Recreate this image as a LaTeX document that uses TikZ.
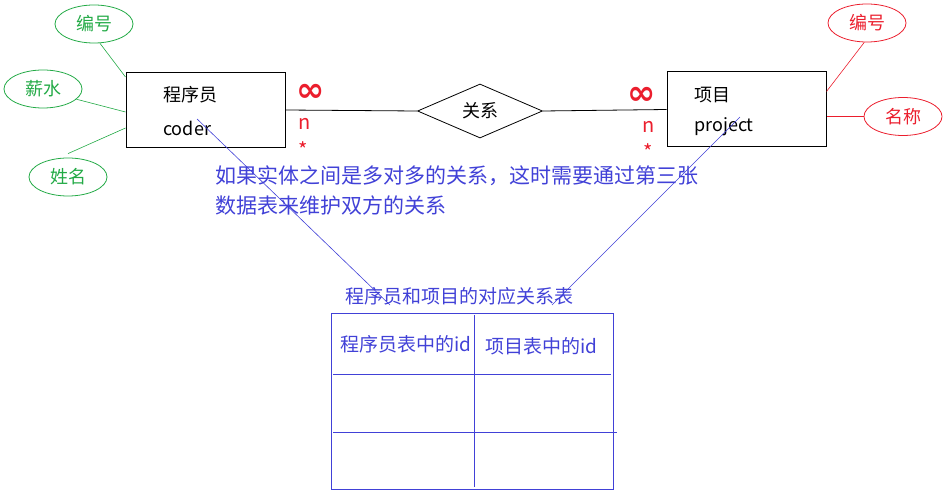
\documentclass[tikz,border=0pt]{standalone}
\usepackage{fontspec}
\setmainfont{Noto Sans CJK SC}
\newfontfamily\symfont{DejaVu Sans}
\usetikzlibrary{shapes.geometric}
\definecolor{attrgreen}{RGB}{35,170,70}
\definecolor{attrred}{RGB}{235,30,45}
\definecolor{noteblue}{RGB}{65,65,215}
\begin{document}
\begin{tikzpicture}[x=1pt,y=-1pt,
  entity/.style={draw,line width=1pt,minimum width=159pt,minimum height=75pt,inner sep=0pt},
  relbox/.style={draw,diamond,line width=0.8pt,minimum width=125pt,minimum height=54pt,aspect=2.3,inner sep=0pt,font=\fontsize{18}{18}\selectfont},
  gattr/.style={draw=attrgreen,ellipse,line width=0.8pt,minimum width=78pt,minimum height=38pt,inner sep=0pt,text=attrgreen,font=\fontsize{18}{18}\selectfont},
  rattr/.style={gattr,draw=attrred,text=attrred},
  etext/.style={anchor=west,inner sep=0pt,font=\fontsize{18}{18}\selectfont},
  mult/.style={text=attrred,inner sep=0pt,font=\fontsize{20}{20}\selectfont},
  inftxt/.style={text=attrred,inner sep=0pt,font=\fontsize{34}{34}\symfont\bfseries},
  note/.style={text=noteblue,inner sep=0pt},
  noteline/.style={draw=noteblue,line width=0.6pt}]
\useasboundingbox (0,0) rectangle (952,494);
% entities and relation
\node[entity] (coder) at (205.5,110) {};
\node[etext] (codercn) at (163,95) {程序员};
\node[etext] (codertxt) at (163,128) {coder};
\node[entity] (project) at (746.5,109.5) {};
\node[etext] (projcn) at (694,95) {项目};
\node[etext] (projtxt) at (694,127) {project};
\node[relbox] (rel) at (480,111) {关系};
\draw[line width=0.8pt] (coder.east) -- (rel.west);
\draw[line width=0.8pt] (rel.east) -- (project.west);
% multiplicities
\node[inftxt] (infl) at (311,93) {∞};
\node[mult] (nl) at (305,124) {n};
\node[mult] (sl) at (303,150) {*};
\node[inftxt] (infr) at (642,96) {∞};
\node[mult] (nr) at (649,127) {n};
\node[mult] (sr) at (648,152) {*};
% attributes of coder
\node[gattr] (cid) at (94,24) {编号};
\node[gattr] (csalary) at (43,89) {薪水};
\node[gattr] (cname) at (68,177) {姓名};
\draw[attrgreen,line width=0.6pt] (cid.-73) -- ([yshift=-5pt]coder.north west);
\draw[attrgreen,line width=0.6pt] (csalary.-17) -- ([yshift=-40pt]coder.north west);
\draw[attrgreen,line width=0.6pt] ([yshift=4pt]cname.north) -- ([yshift=-56pt]coder.north west);
% attributes of project
\node[rattr] (pid) at (867,23) {编号};
\node[rattr] (pname) at (903,116.5) {名称};
\draw[attrred,line width=0.6pt] (pid.-98) -- ([yshift=-20pt]project.north east);
\draw[attrred,line width=0.6pt] (pname.west) -- (project.east |- pname.west);
% note
\node[note,anchor=north west,align=left,font=\fontsize{21}{30}\selectfont] (notetxt) at (215,166)
  {如果实体之间是多对多的关系，这时需要通过第三张\\数据表来维护双方的关系};
% link table
\node[note,font=\fontsize{19}{19}\selectfont] (tbltitle) at (459,296) {程序员和项目的对应关系表};
\coordinate (lnA) at (390,305);
\coordinate (lnB) at (552,305);
\draw[noteline] ([xshift=10pt,yshift=9pt]codertxt.center) -- (lnA);
\draw[noteline] ([xshift=16pt,yshift=10pt]projtxt.center) -- (lnB);
\draw[noteline,line width=0.8pt] (331,313) rectangle (613,489);
\draw[noteline,line width=0.8pt] (474,315) -- (474,487);
\draw[noteline,line width=0.8pt] (333,374) -- (611,374);
\draw[noteline,line width=0.8pt] (333,432) -- (617,432);
\node[note,anchor=west,font=\fontsize{19}{19}\selectfont] (colA) at (340,344) {程序员表中的id};
\node[note,anchor=west,font=\fontsize{19}{19}\selectfont] (colB) at (485,346) {项目表中的id};
\end{tikzpicture}
\end{document}
